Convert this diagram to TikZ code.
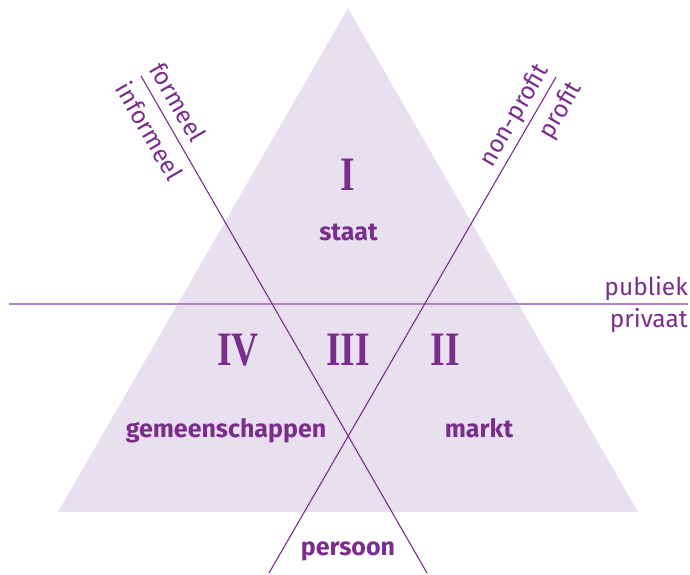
\documentclass[tikz,border=0pt]{standalone}
\usepackage{fontspec}
\setmainfont{Fira Sans}
\newfontfamily\numfont{Liberation Serif}
\definecolor{tpurple}{HTML}{7B2D8E}
\definecolor{tfill}{HTML}{E8DFEF}
\definecolor{hline}{HTML}{B182C6}
\begin{document}
\begin{tikzpicture}[x=1pt,y=-1pt,
  numlbl/.style={text=tpurple,font=\numfont\fontsize{48}{48}\selectfont\bfseries,xscale=0.78,inner sep=0pt,anchor=base},
  boldlbl/.style={text=tpurple,font=\fontsize{25}{25}\selectfont\bfseries,inner sep=0pt,anchor=base},
  axislbl/.style={text=tpurple,font=\fontsize{24.5}{24.5}\selectfont,inner sep=0pt},
  divline/.style={draw=tpurple,line width=1.1pt}]
\useasboundingbox (0,0) rectangle (690,574);
% triangle
\coordinate (apex) at (348,8);
\coordinate (bl) at (58,512);
\coordinate (br) at (638,512);
\fill[tfill] (apex) -- (bl) -- (br) -- cycle;
% lines
\coordinate (ha) at (9,304);
\coordinate (hb) at (688,304);
\coordinate (fa) at (141,76);
\coordinate (fb) at (427,573);
\coordinate (na) at (556,77);
\coordinate (nb) at (269,573);
\draw[hline,line width=1.8pt] (ha) -- (hb);
\draw[divline] (fa) -- (fb);
\draw[divline] (na) -- (nb);
% numerals
\node[numlbl] (n1) at (348,190) {I};
\node[numlbl] (n4) at (238,365) {IV};
\node[numlbl] (n3) at (348,365) {III};
\node[numlbl] (n2) at (445,365) {II};
% labels
\node[boldlbl] (staat) at (348.5,240) {staat};
\node[boldlbl] (gem) at (226,437) {gemeenschappen};
\node[boldlbl] (markt) at (479,437) {markt};
\node[boldlbl] (persoon) at (348,555) {persoon};
% axis labels
\node[axislbl,anchor=base east] (publiek) at (688,295) {publiek};
\node[axislbl,anchor=base east] (privaat) at (688,327) {privaat};
\node[axislbl,rotate=-60] (formeel) at (178,102) {formeel};
\node[axislbl,rotate=-60] (informeel) at (150,131) {informeel};
\node[axislbl,rotate=60] (nonprofit) at (515,116) {non-profit};
\node[axislbl,rotate=60] (profit) at (561,111) {profit};
\end{tikzpicture}
\end{document}
